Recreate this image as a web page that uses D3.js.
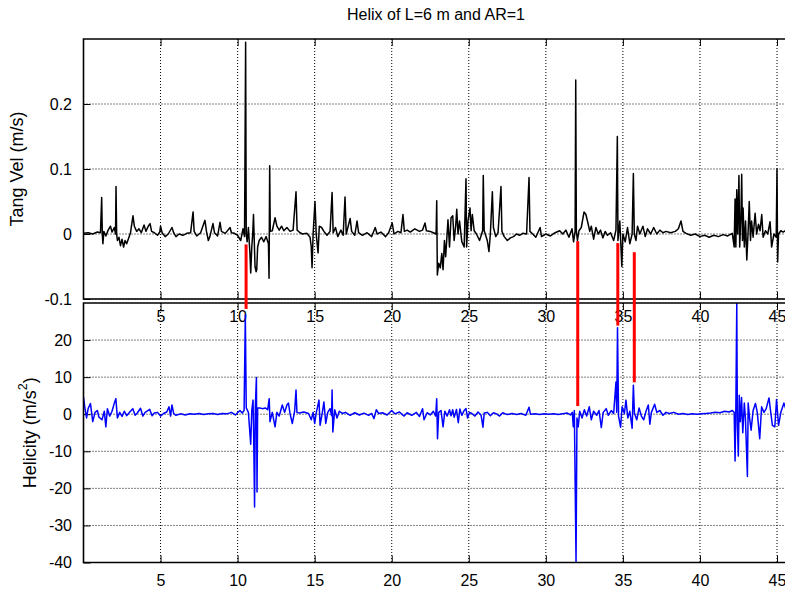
<!DOCTYPE html>
<html>
<head>
<meta charset="utf-8">
<script src="https://cdn.jsdelivr.net/npm/d3@7"></script>
<style>
  body { margin: 0; background: #fff; }
  svg text { font-family: "Liberation Sans", Arial, Helvetica, sans-serif; fill: #000; }
</style>
</head>
<body>
<div id="chart"></div>
<script>
// time ticks shared by both panels
var xTicks = [5, 10, 15, 20, 25, 30, 35, 40, 45];
var velTicks = [-0.1, 0, 0.1, 0.2];
var helTicks = [-40, -30, -20, -10, 0, 10, 20];

// tangential velocity (m/s) vs time
var velData = [
  [0, 0.001], [0.3, 0.002], [0.6, 0.0], [0.9, 0.003], [1.1, 0.002], [1.18, 0.056], [1.22, 0.0], [1.26, -0.015],
  [1.32, 0.004], [1.45, -0.003], [1.6, 0.006], [1.75, 0.012], [1.85, 0.003], [2.0, 0.01], [2.08, 0.0], [2.11, 0.073],
  [2.15, 0.0], [2.2, -0.01], [2.3, -0.005], [2.4, -0.018], [2.5, -0.008], [2.6, -0.02], [2.7, -0.01], [2.8, -0.015],
  [2.95, -0.005], [3.05, 0.002], [3.21, 0.028], [3.3, 0.012], [3.45, 0.004], [3.6, 0.008], [3.75, 0.002], [3.93, 0.014],
  [4.05, 0.004], [4.2, 0.012], [4.32, 0.016], [4.42, 0.004], [4.6, 0.002], [4.8, -0.002], [4.95, 0.003], [5.0, 0.012],
  [5.1, 0.002], [5.3, -0.004], [5.5, 0.0], [5.74, 0.01], [5.85, 0.002], [6.0, -0.004], [6.2, 0.0], [6.45, -0.002],
  [6.7, 0.001], [6.95, 0.002], [7.11, 0.034], [7.18, 0.004], [7.35, -0.003], [7.6, 0.002], [7.88, 0.021], [7.98, 0.004],
  [8.1, -0.01], [8.2, -0.004], [8.4, 0.016], [8.5, 0.002], [8.7, -0.003], [8.86, 0.018], [8.95, 0.004], [9.2, 0.001],
  [9.51, 0.01], [9.6, 0.002], [9.8, 0.001], [10.0, -0.002], [10.2, -0.01], [10.35, 0.008], [10.45, -0.004], [10.52, 0.295],
  [10.56, 0.0], [10.62, -0.012], [10.7, 0.01], [10.8, -0.03], [10.85, -0.06], [10.92, -0.02], [10.98, 0.0], [11.03, 0.03],
  [11.08, -0.01], [11.13, -0.05], [11.2, -0.058], [11.24, -0.055], [11.3, -0.02], [11.4, -0.01], [11.55, -0.005], [11.7, -0.012],
  [11.85, -0.004], [12.0, -0.015], [12.04, -0.068], [12.08, 0.105], [12.12, 0.004], [12.25, 0.005], [12.43, 0.025], [12.55, 0.012],
  [12.7, 0.006], [12.85, 0.012], [13.0, 0.005], [13.2, 0.01], [13.4, 0.004], [13.6, 0.006], [13.79, 0.065], [13.86, 0.006],
  [14.0, 0.003], [14.2, 0.0], [14.5, 0.001], [14.7, -0.005], [14.78, -0.02], [14.83, -0.052], [14.9, 0.0], [15.02, 0.05],
  [15.1, 0.0], [15.22, -0.029], [15.3, 0.012], [15.45, 0.01], [15.6, 0.004], [15.8, -0.002], [16.0, 0.004], [16.13, 0.064],
  [16.2, 0.002], [16.35, 0.01], [16.5, -0.004], [16.7, 0.006], [16.85, -0.002], [16.97, 0.057], [17.05, 0.0], [17.3, 0.024],
  [17.4, 0.004], [17.6, -0.002], [17.75, 0.02], [17.85, 0.002], [18.1, -0.002], [18.4, 0.002], [18.7, -0.004], [18.93, 0.01],
  [19.05, 0.0], [19.3, 0.003], [19.6, -0.004], [19.8, 0.002], [20.03, 0.017], [20.15, 0.0], [20.4, 0.004], [20.6, 0.002],
  [20.73, 0.03], [20.82, 0.004], [21.0, 0.006], [21.2, 0.003], [21.5, 0.008], [21.8, 0.004], [22.0, 0.006], [22.16, 0.017],
  [22.25, 0.005], [22.5, 0.004], [22.7, 0.002], [22.88, 0.0], [22.92, 0.051], [22.96, -0.063], [23.05, -0.045], [23.15, -0.052],
  [23.25, -0.03], [23.33, -0.055], [23.42, -0.01], [23.5, -0.035], [23.58, -0.005], [23.65, 0.022], [23.75, -0.02], [23.85, 0.025],
  [23.96, 0.028], [24.05, -0.01], [24.15, 0.012], [24.22, 0.038], [24.3, 0.0], [24.4, 0.02], [24.55, -0.012], [24.7, -0.02],
  [24.82, 0.085], [24.86, -0.02], [24.95, 0.02], [25.08, 0.04], [25.15, 0.005], [25.23, 0.03], [25.35, 0.005], [25.5, 0.0],
  [25.7, -0.01], [25.9, 0.005], [25.94, 0.09], [26.0, 0.005], [26.2, -0.01], [26.31, -0.027], [26.4, 0.0], [26.53, 0.065],
  [26.6, 0.01], [26.75, -0.004], [26.9, 0.002], [27.09, 0.073], [27.15, 0.004], [27.3, -0.004], [27.5, -0.01], [27.7, -0.006],
  [27.9, -0.004], [28.1, 0.0], [28.3, -0.002], [28.5, 0.001], [28.75, 0.0], [28.91, 0.087], [28.97, 0.004], [29.15, 0.0],
  [29.35, -0.005], [29.63, 0.01], [29.72, -0.004], [30.0, 0.0], [30.3, -0.003], [30.6, 0.002], [30.9, 0.005], [31.1, 0.0],
  [31.3, 0.006], [31.5, -0.005], [31.7, 0.008], [31.8, -0.012], [31.9, 0.004], [31.94, 0.237], [31.98, 0.005], [32.05, -0.01],
  [32.15, 0.005], [32.3, 0.01], [32.48, 0.034], [32.6, 0.03], [32.75, 0.015], [32.85, 0.004], [32.95, 0.012], [33.1, -0.008],
  [33.25, 0.01], [33.4, 0.0], [33.55, 0.006], [33.7, -0.006], [33.85, 0.004], [34.0, -0.002], [34.2, 0.002], [34.4, -0.01],
  [34.55, 0.006], [34.64, 0.15], [34.68, -0.01], [34.8, 0.02], [34.93, -0.05], [35.0, 0.0], [35.15, -0.012], [35.3, 0.01],
  [35.45, -0.015], [35.6, 0.0], [35.68, 0.093], [35.74, 0.0], [35.85, -0.01], [35.95, 0.012], [36.1, 0.0], [36.3, 0.012],
  [36.45, -0.004], [36.6, 0.008], [36.8, 0.0], [37.0, 0.01], [37.2, 0.0], [37.4, 0.006], [37.6, 0.002], [37.8, 0.004],
  [38.1, 0.002], [38.4, 0.004], [38.6, 0.008], [38.77, 0.02], [38.9, 0.004], [39.1, 0.001], [39.4, -0.002], [39.7, 0.0],
  [40.0, -0.004], [40.3, -0.002], [40.6, -0.005], [40.9, -0.002], [41.2, -0.004], [41.5, -0.001], [41.8, -0.003], [42.1, 0.001],
  [42.22, -0.02], [42.28, 0.054], [42.33, -0.02], [42.39, 0.068], [42.45, 0.0], [42.53, 0.09], [42.58, -0.02], [42.66, 0.03],
  [42.71, 0.092], [42.76, -0.01], [42.8, 0.04], [42.88, -0.02], [42.96, 0.02], [43.04, -0.04], [43.12, 0.0], [43.2, 0.05],
  [43.28, -0.01], [43.35, 0.02], [43.45, -0.005], [43.58, 0.032], [43.68, 0.0], [43.8, 0.015], [43.9, 0.005], [44.01, 0.03],
  [44.1, -0.005], [44.25, 0.005], [44.4, 0.0], [44.55, 0.019], [44.65, -0.02], [44.8, 0.0], [44.95, -0.005], [45.0, 0.1],
  [45.04, -0.043], [45.1, 0.0], [45.25, 0.005], [45.4, 0.003], [45.6, 0.006]
];

// helicity (m/s^2) vs time
var helData = [
  [0, 4.6], [0.08, 2.0], [0.2, -1], [0.3, 1.5], [0.45, 2.9], [0.6, -2], [0.75, 0.5], [0.9, 1], [1.0, -0.8], [1.2, -1.5],
  [1.35, 0.8], [1.45, -3.4], [1.55, 1.5], [1.7, -0.5], [1.85, 0.8], [2.0, 3], [2.1, 4.2], [2.2, -1], [2.35, 0.5], [2.5, -0.6],
  [2.65, 0.8], [2.8, -0.4], [3.0, 0.6], [3.2, 1.5], [3.35, -0.3], [3.5, 0.4], [3.7, 1.6], [3.85, -0.5], [4.0, 0.5], [4.3, 1.3],
  [4.45, -0.4], [4.6, 0.3], [4.8, 0.5], [5.0, -0.5], [5.2, 0.2], [5.4, 0.6], [5.55, 2], [5.65, -0.5], [5.74, 2.5], [5.85, 0.2],
  [6.0, -0.3], [6.3, 0.1], [6.6, -0.2], [6.9, 0.1], [7.2, 0], [7.5, 0.2], [7.8, -0.1], [8.1, 0.1], [8.4, 0.2], [8.7, -0.1],
  [9.0, 0.2], [9.3, 0.1], [9.6, 0.5], [9.85, -0.2], [10.15, 1], [10.3, 0.3], [10.42, 1], [10.5, 26.8], [10.56, 1.7], [10.7, 0.5],
  [10.85, -8.1], [10.92, 1], [11.0, 3.8], [11.04, -5], [11.1, -25], [11.15, 2], [11.22, 9.9], [11.26, -21], [11.3, 1.7], [11.45, 1.7],
  [11.6, 1.5], [11.8, 1.7], [11.95, 1.2], [12.05, 4.2], [12.1, -2], [12.25, 0.5], [12.43, -3.4], [12.55, 0.5], [12.7, -0.5], [12.9, 2.5],
  [13.05, 0.5], [13.2, 2.5], [13.3, 3], [13.4, 0.2], [13.55, -2.5], [13.7, 0.8], [13.79, 6.5], [13.85, 0.5], [14.0, 0.3], [14.3, 0.6],
  [14.6, 0.2], [14.78, -1.5], [14.9, 0.5], [15.0, -2.5], [15.1, 0.3], [15.28, 3.8], [15.35, -3], [15.5, 0.5], [15.6, 3.3], [15.72, -2.5],
  [15.85, 0.5], [16.0, 1.5], [16.1, -0.4], [16.13, 6.5], [16.18, -4.8], [16.3, 1.2], [16.45, -1], [16.6, 0.8], [16.8, 0.2], [17.0, 0.5],
  [17.3, -0.3], [17.6, 0.4], [17.9, -0.2], [18.2, 0.3], [18.5, -0.3], [18.7, 0.2], [18.85, -1.2], [19.0, 1.2], [19.15, 0.2], [19.4, 0.4],
  [19.7, -0.2], [20.0, 1], [20.2, 0.1], [20.5, 0.6], [20.8, -0.5], [21.0, 0.4], [21.3, -0.3], [21.6, 0.5], [21.8, -0.6], [22.0, 1.5],
  [22.1, -1.5], [22.3, 0.4], [22.5, -0.2], [22.7, 0.8], [22.85, -0.5], [22.92, 4.2], [22.97, -6.6], [23.05, 0.5], [23.2, 1], [23.33, -3.4],
  [23.45, 0.8], [23.6, -0.5], [23.75, 1.2], [23.85, -0.4], [23.96, 1.2], [24.05, -0.8], [24.2, 1.3], [24.32, -2.3], [24.42, 1.4], [24.55, -0.3],
  [24.7, 1], [24.82, 1.5], [24.92, -1], [25.05, 0.5], [25.2, 0.2], [25.4, -0.5], [25.6, 0.6], [25.8, -0.3], [25.92, -3.5], [26.0, 0.3],
  [26.2, 0.5], [26.4, -0.4], [26.6, 0.4], [26.8, 0.1], [27.0, -0.5], [27.2, 0.4], [27.5, -0.1], [27.8, 0.2], [28.1, -0.1], [28.4, 0.2],
  [28.7, -0.3], [28.91, 1.9], [29.0, 0], [29.3, 0.1], [29.6, -0.1], [29.9, 0.1], [30.2, 0], [30.5, 0.1], [30.8, -0.1], [31.1, 0.1],
  [31.4, 0.3], [31.6, -0.2], [31.72, 0.5], [31.78, -3.4], [31.85, 1], [31.96, -40], [32.02, -1], [32.1, -3.4], [32.2, 0.8], [32.35, -1],
  [32.5, 1.2], [32.65, -0.5], [32.82, 2], [32.95, -1.5], [33.1, 0.8], [33.3, -0.3], [33.45, 1], [33.6, -3.6], [33.72, 0.5], [33.92, 1.5],
  [34.05, -0.3], [34.25, 1], [34.4, 0.2], [34.55, 8.7], [34.6, 0.5], [34.65, 23.3], [34.72, -0.5], [34.85, -3.5], [34.95, 2], [35.1, 0.2],
  [35.2, 3.8], [35.32, -1], [35.45, 0.8], [35.6, -3.8], [35.68, 7.8], [35.75, 0.2], [35.9, -1.5], [36.05, 1.7], [36.2, -0.5], [36.35, -1.5],
  [36.5, 0.8], [36.65, 2.5], [36.75, -2.7], [36.85, 0.5], [37.06, 2.7], [37.2, 0.5], [37.4, 1], [37.6, -0.3], [37.8, 0.5], [38.0, 0.2],
  [38.3, 0.5], [38.6, 0], [38.9, 0.2], [39.2, -0.1], [39.5, 0.1], [39.8, 0], [40.1, 0.1], [40.4, 0.2], [40.7, 0.3], [41.0, 0.5],
  [41.3, 0.4], [41.6, 0.8], [41.9, 0.6], [42.1, 1], [42.22, 0.5], [42.28, -12.6], [42.33, 2], [42.39, 30], [42.43, -3], [42.49, -11.3],
  [42.55, 5.1], [42.62, -2], [42.7, 4.5], [42.78, -5], [42.88, 3], [42.95, -1], [43.08, -16.8], [43.13, 3], [43.22, -1], [43.32, -4.3],
  [43.45, 1], [43.6, 2.9], [43.72, 0.5], [43.88, -6.6], [44.0, 2], [44.15, 0.5], [44.3, 1.5], [44.48, 4.4], [44.58, 1], [44.7, -3],
  [44.86, -3.4], [44.97, 4], [45.1, -3], [45.25, 0.5], [45.45, 3], [45.6, 1]
];

// red markers joining velocity events to helicity events
var markT = [10.55, 32.07, 34.67, 35.74];
var markVel = [-0.016, -0.011, -0.014, -0.028];
var markHel = [28.4, 2.2, 23.9, 8.6];

var W = 785, H = 592;
var left = 83.5, rightEdge = 790;
var topPanel = {top: 39, bottom: 299};
var botPanel = {top: 303, bottom: 562.5};
var tickFont = 16, labelFont = 18;

var x = d3.scaleLinear().domain([0, 45]).range([left, 777]);
var yVel = d3.scaleLinear().domain([-0.1, 0.3]).range([topPanel.bottom, topPanel.top]);
var yHel = d3.scaleLinear().domain([-40, 30]).range([botPanel.bottom, botPanel.top]);

// gnuplot style: plain hyphen for negatives
function hyphen(f) {
  return function(d) { return f(d).replace("\u2212", "-"); };
}

var svg = d3.select("#chart").append("svg")
  .attr("width", W)
  .attr("height", H);

var defs = svg.append("defs");
[["clipTop", topPanel], ["clipBot", botPanel]].forEach(function(c) {
  defs.append("clipPath").attr("id", c[0])
    .append("rect")
    .attr("x", left).attr("y", c[1].top)
    .attr("width", rightEdge - left).attr("height", c[1].bottom - c[1].top);
});

function drawPanel(y, yTicks, panel, data, color, clipId, fmt) {
  var g = svg.append("g");

  //grid
  g.append("g").selectAll("line.vg")
    .data(xTicks)
    .enter().append("line")
      .attr("x1", function(d) { return x(d); })
      .attr("x2", function(d) { return x(d); })
      .attr("y1", panel.top)
      .attr("y2", panel.bottom)
      .attr("stroke", "#000")
      .attr("stroke-width", 1)
      .attr("stroke-dasharray", "1,2");
  g.append("g").selectAll("line.hg")
    .data(yTicks)
    .enter().append("line")
      .attr("x1", left)
      .attr("x2", rightEdge)
      .attr("y1", function(d) { return y(d); })
      .attr("y2", function(d) { return y(d); })
      .attr("stroke", "#000")
      .attr("stroke-width", 1)
      .attr("stroke-dasharray", "1,2");

  //axes
  var xb = g.append("g")
    .attr("transform", "translate(0," + panel.bottom + ")")
    .call(d3.axisBottom(x).tickValues(xTicks).tickSize(-7).tickPadding(12));
  var xt = g.append("g")
    .attr("transform", "translate(0," + panel.top + ")")
    .call(d3.axisTop(x).tickValues(xTicks).tickSize(-7).tickFormat(""));
  var yl = g.append("g")
    .attr("transform", "translate(" + left + ",0)")
    .call(d3.axisLeft(y).tickValues(yTicks).tickSize(-7).tickPadding(11.5).tickFormat(fmt));
  [xb, xt, yl].forEach(function(a) {
    a.select(".domain").remove();
    a.selectAll("line").attr("stroke", "#000").attr("stroke-width", 1);
    a.selectAll("text")
      .attr("font-family", "Liberation Sans, Arial, sans-serif")
      .attr("font-size", tickFont)
      .attr("fill", "#000");
  });

  //series
  var line = d3.line()
    .x(function(d) { return x(d[0]); })
    .y(function(d) { return y(d[1]); });
  g.append("path")
    .datum(data)
    .attr("clip-path", "url(#" + clipId + ")")
    .attr("fill", "none")
    .attr("stroke", color)
    .attr("stroke-width", 1.5)
    .attr("stroke-linejoin", "round")
    .attr("d", line);

  //frame (right side falls outside the window)
  g.append("path")
    .attr("fill", "none")
    .attr("stroke", "#000")
    .attr("stroke-width", 1.6)
    .attr("d", "M" + rightEdge + "," + panel.top + "H" + left + "V" + panel.bottom + "H" + rightEdge);
}

drawPanel(yVel, velTicks, topPanel, velData, "#000", "clipTop",
  function(d) { return d === 0 ? "0" : hyphen(d3.format(".1f"))(d); });
drawPanel(yHel, helTicks, botPanel, helData, "#0000ff", "clipBot", hyphen(d3.format("d")));

//red markers
svg.append("g").selectAll("line")
  .data(markT)
  .enter().append("line")
    .attr("x1", function(d) { return x(d); })
    .attr("x2", function(d) { return x(d); })
    .attr("y1", function(d, i) { return yVel(markVel[i]); })
    .attr("y2", function(d, i) { return yHel(markHel[i]); })
    .attr("stroke", "#ff0000")
    .attr("stroke-width", 3);

//title and labels
svg.append("text")
  .attr("x", 436)
  .attr("y", 20)
  .attr("text-anchor", "middle")
  .attr("font-size", 16)
  .text("Helix of L=6 m and AR=1");

svg.append("text")
  .attr("transform", "translate(17," + ((topPanel.top + topPanel.bottom) / 2) + ") rotate(-90)")
  .attr("text-anchor", "middle")
  .attr("dominant-baseline", "central")
  .attr("font-size", labelFont)
  .text("Tang Vel (m/s)");

var hl = svg.append("text")
  .attr("transform", "translate(30," + ((botPanel.top + botPanel.bottom) / 2) + ") rotate(-90)")
  .attr("text-anchor", "middle")
  .attr("dominant-baseline", "central")
  .attr("font-size", labelFont);
hl.append("tspan").text("Helicity (m/s");
hl.append("tspan").attr("baseline-shift", "super").attr("font-size", labelFont * 0.7).text("2");
hl.append("tspan").text(")");
</script>
</body>
</html>
